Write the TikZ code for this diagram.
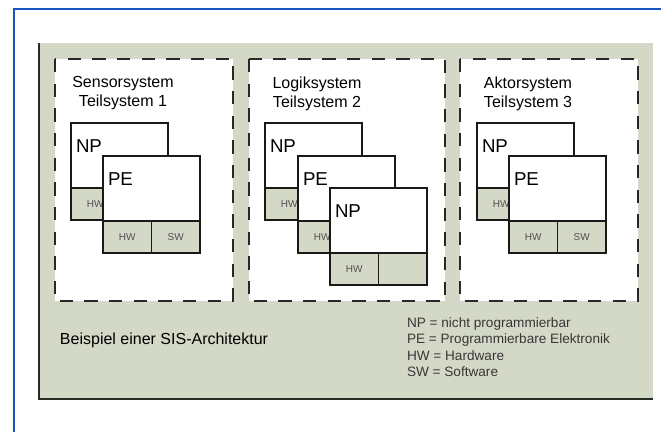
\documentclass[tikz,border=0pt]{standalone}
\usepackage{fontspec}
\setmainfont{Liberation Sans}
\tikzset{every picture/.style={line width=0.75pt}}

\begin{document}
\begin{tikzpicture}[x=0.75pt,y=0.75pt,yscale=-1,xscale=1,
	subsys/.style={draw={rgb, 255:red, 40; green, 40; blue, 40}, fill=white, line width=1.6pt, dash pattern={on 10pt off 8.5pt}},
	modbox/.style={draw={rgb, 255:red, 25; green, 25; blue, 25}, fill=white, line width=1.2pt},
	modstrip/.style={draw={rgb, 255:red, 25; green, 25; blue, 25}, fill={rgb, 255:red, 212; green, 217; blue, 199}, line width=1.2pt},
	modlabel/.style={anchor=north west, inner sep=0.75pt, font=\fontsize{14}{16}\selectfont},
	celllabel/.style={inner sep=0.75pt, text={rgb, 255:red, 80; green, 80; blue, 80}, font=\fontsize{7.5}{8}\selectfont}]
		\useasboundingbox (0,0) rectangle (661,432);
		
		%Frame
		\draw [color={rgb, 255:red, 20; green, 85; blue, 190 }, line width=1.5pt] (13.5,440) -- (13.5,9) -- (670,9) ;
		%Shape: Panel
		\fill [color={rgb, 255:red, 212; green, 217; blue, 199 }] (39,43) rectangle (653,399) ;
		\draw [color={rgb, 255:red, 40; green, 45; blue, 35 }, line width=1.1pt] (39,43) -- (39,399) -- (653,399) ;
		
		%Shape: Dashed Rectangles
		\draw [subsys] (55,59) rectangle (233,301) ;
		\draw [subsys] (249,59) rectangle (445,301) ;
		\draw [subsys] (460,59) rectangle (638,301) ;
		
		% Text Node
		\draw (123,75) node (t1) [anchor=north, inner sep=0.75pt, align=center, font=\fontsize{12}{14.25}\selectfont] {Sensorsystem\\Teilsystem 1};
		% Text Node
		\draw (317,75) node (t2) [anchor=north, inner sep=0.75pt, align=center, font=\fontsize{12}{14.25}\selectfont] {Logiksystem\\Teilsystem 2};
		% Text Node
		\draw (528,75) node (t3) [anchor=north, inner sep=0.75pt, align=center, font=\fontsize{12}{14.25}\selectfont] {Aktorsystem\\Teilsystem 3};
		
		%Module NP (Teilsystem 1)
		\draw [modbox] (71,123) rectangle ++(97,65) ;
		\draw [modstrip] (71,188) rectangle ++(48.5,32) ;
		\draw [modstrip] (119.5,188) rectangle ++(48.5,32) ;
		\draw (74.5,138.5) node (np1) [modlabel] {NP};
		\draw (95.25,204) node (hw1) [celllabel] {HW};
		%Module PE (Teilsystem 1)
		\draw [modbox] (103,156) rectangle ++(97,65) ;
		\draw [modstrip] (103,221) rectangle ++(48.5,32) ;
		\draw [modstrip] (151.5,221) rectangle ++(48.5,32) ;
		\draw (106.5,171.5) node (pe1) [modlabel] {PE};
		\draw (127.25,237) node (hw2) [celllabel] {HW};
		\draw (175.75,237) node (sw2) [celllabel] {SW};
		
		%Module NP (Teilsystem 2)
		\draw [modbox] (265,123) rectangle ++(97,65) ;
		\draw [modstrip] (265,188) rectangle ++(48.5,32) ;
		\draw [modstrip] (313.5,188) rectangle ++(48.5,32) ;
		\draw (268.5,138.5) node (np2) [modlabel] {NP};
		\draw (289.25,204) node (hw3) [celllabel] {HW};
		%Module PE (Teilsystem 2)
		\draw [modbox] (298,156) rectangle ++(97,65) ;
		\draw [modstrip] (298,221) rectangle ++(48.5,32) ;
		\draw [modstrip] (346.5,221) rectangle ++(48.5,32) ;
		\draw (301.5,171.5) node (pe2) [modlabel] {PE};
		\draw (322.25,237) node (hw4) [celllabel] {HW};
		%Module NP (Teilsystem 2, front)
		\draw [modbox] (330,188) rectangle ++(97,65) ;
		\draw [modstrip] (330,253) rectangle ++(48.5,32) ;
		\draw [modstrip] (378.5,253) rectangle ++(48.5,32) ;
		\draw (333.5,203.5) node (np3) [modlabel] {NP};
		\draw (354.25,269) node (hw5) [celllabel] {HW};
		
		%Module NP (Teilsystem 3)
		\draw [modbox] (477,123) rectangle ++(97,65) ;
		\draw [modstrip] (477,188) rectangle ++(48.5,32) ;
		\draw [modstrip] (525.5,188) rectangle ++(48.5,32) ;
		\draw (480.5,138.5) node (np4) [modlabel] {NP};
		\draw (501.25,204) node (hw6) [celllabel] {HW};
		%Module PE (Teilsystem 3)
		\draw [modbox] (509,156) rectangle ++(97,65) ;
		\draw [modstrip] (509,221) rectangle ++(48.5,32) ;
		\draw [modstrip] (557.5,221) rectangle ++(48.5,32) ;
		\draw (512.5,171.5) node (pe3) [modlabel] {PE};
		\draw (533.25,237) node (hw7) [celllabel] {HW};
		\draw (581.75,237) node (sw7) [celllabel] {SW};
		
		% Text Node
		\draw (58.5,331) node (cap) [anchor=north west, inner sep=0.75pt, font=\fontsize{12}{14}\selectfont] {Beispiel einer SIS-Architektur};
		% Text Node
		\draw (405.5,316) node (leg) [anchor=north west, inner sep=0.75pt, align=left, text={rgb, 255:red, 55; green, 55; blue, 55}, font=\fontsize{10.2}{12.4}\selectfont] {NP = nicht programmierbar\\PE = Programmierbare Elektronik\\HW = Hardware\\SW = Software};
	\end{tikzpicture}
\end{document}
